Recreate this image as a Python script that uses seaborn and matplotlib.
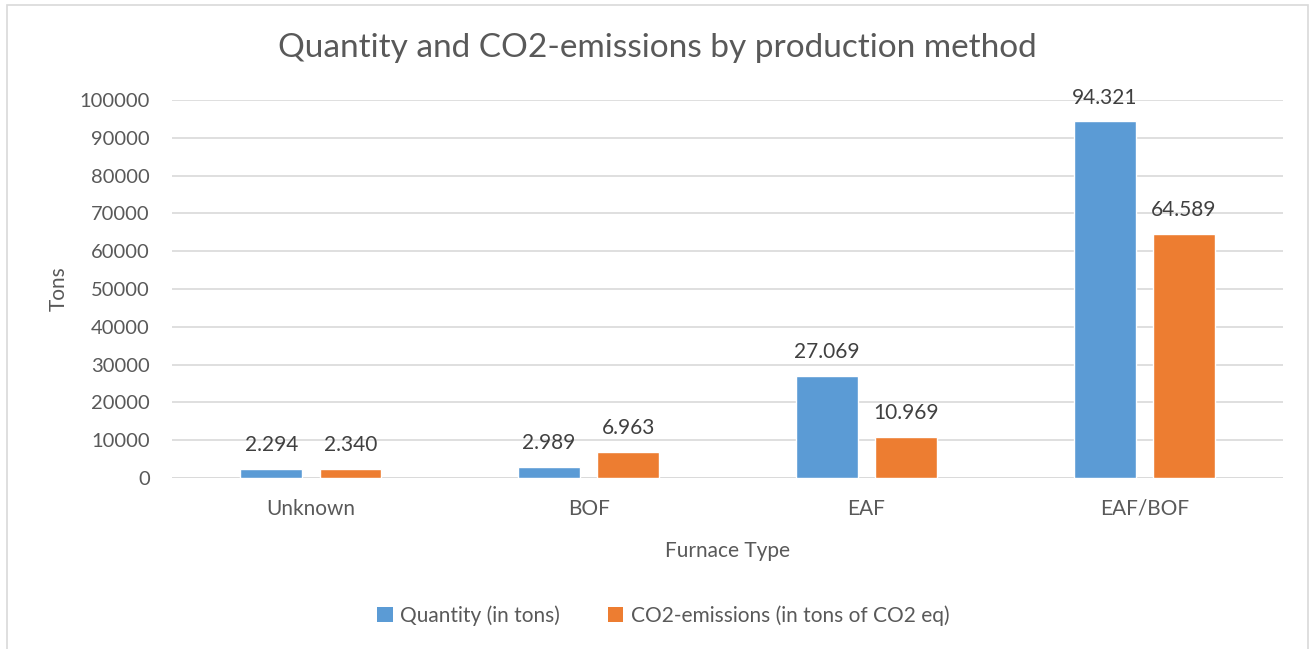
import matplotlib
matplotlib.use("Agg")
import matplotlib.pyplot as plt
from matplotlib.patches import Rectangle, Patch
import pandas as pd
import seaborn as sns

furnace_types = ["Unknown", "BOF", "EAF", "EAF/BOF"]
quantity_tons = [2294, 2989, 27069, 94321]
co2_tons = [2340, 6963, 10969, 64589]
series_names = ["Quantity (in tons)", "CO2-emissions (in tons of CO2 eq)"]
series_colors = ["#5B9BD5", "#ED7D31"]
y_ticks = list(range(0, 100001, 10000))

df = pd.DataFrame({
    "Furnace Type": furnace_types * 2,
    "Tons": quantity_tons + co2_tons,
    "Series": [series_names[0]] * len(furnace_types) + [series_names[1]] * len(furnace_types),
})

sns.set_theme(style="white")
plt.rcParams["font.family"] = ["Lato", "DejaVu Sans"]
text_color = "#595959"
grid_color = "#D9D9D9"

fig = plt.figure(figsize=(13.16, 6.49), dpi=100)
ax = fig.add_axes([0.1307, 0.2635, 0.975 - 0.1307, 0.846 - 0.2635])

sns.barplot(data=df, x="Furnace Type", y="Tons", hue="Series",
            order=furnace_types, hue_order=series_names,
            palette=series_colors, width=0.57, gap=0.22,
            saturation=1, legend=False, ax=ax, zorder=3)

ax.set_ylim(0, 100000)
ax.set_xlim(-0.5, len(furnace_types) - 0.5)
ax.set_yticks(y_ticks)
ax.set_yticklabels([str(t) for t in y_ticks])
ax.yaxis.grid(True, color=grid_color, linewidth=1.2, zorder=0)
ax.set_axisbelow(True)
for s in ax.spines.values():
    s.set_visible(False)
ax.axhline(0, color=grid_color, linewidth=1.2, zorder=2)
ax.tick_params(axis="both", length=0, colors=text_color)
ax.tick_params(axis="x", pad=15, labelsize=15)
ax.tick_params(axis="y", pad=16, labelsize=14.5)

ax.set_xlabel("Furnace Type", fontsize=15, color=text_color, labelpad=16)
ax.set_ylabel("Tons", fontsize=15, color=text_color, labelpad=8)

for cont in ax.containers:
    for bar in cont:
        h = bar.get_height()
        label = f"{int(round(h)):,}".replace(",", ".")
        ax.annotate(label, (bar.get_x() + bar.get_width() / 2, h),
                    xytext=(0, 10), textcoords="offset points",
                    ha="center", va="bottom", fontsize=15, color="#404040")

fig.text(0.4995, 0.926, "Quantity and CO2-emissions by production method",
         ha="center", va="center", fontsize=24, color=text_color)

handles = [Patch(facecolor=c, edgecolor="none") for c in series_colors]
fig.legend(handles, series_names, loc="center", bbox_to_anchor=(0.504, 0.052),
           ncol=2, frameon=False, fontsize=15, handlelength=0.75, handleheight=0.75,
           handletextpad=0.35, columnspacing=2.3, labelcolor=text_color)

fig.patches.append(Rectangle((7 / 1316, -0.02), (1308 - 7) / 1316, 1.02 - 5 / 649,
                             transform=fig.transFigure, fill=False,
                             edgecolor="#D9D9D9", linewidth=1.2))

fig.savefig("out.png", dpi=100, facecolor="white")
